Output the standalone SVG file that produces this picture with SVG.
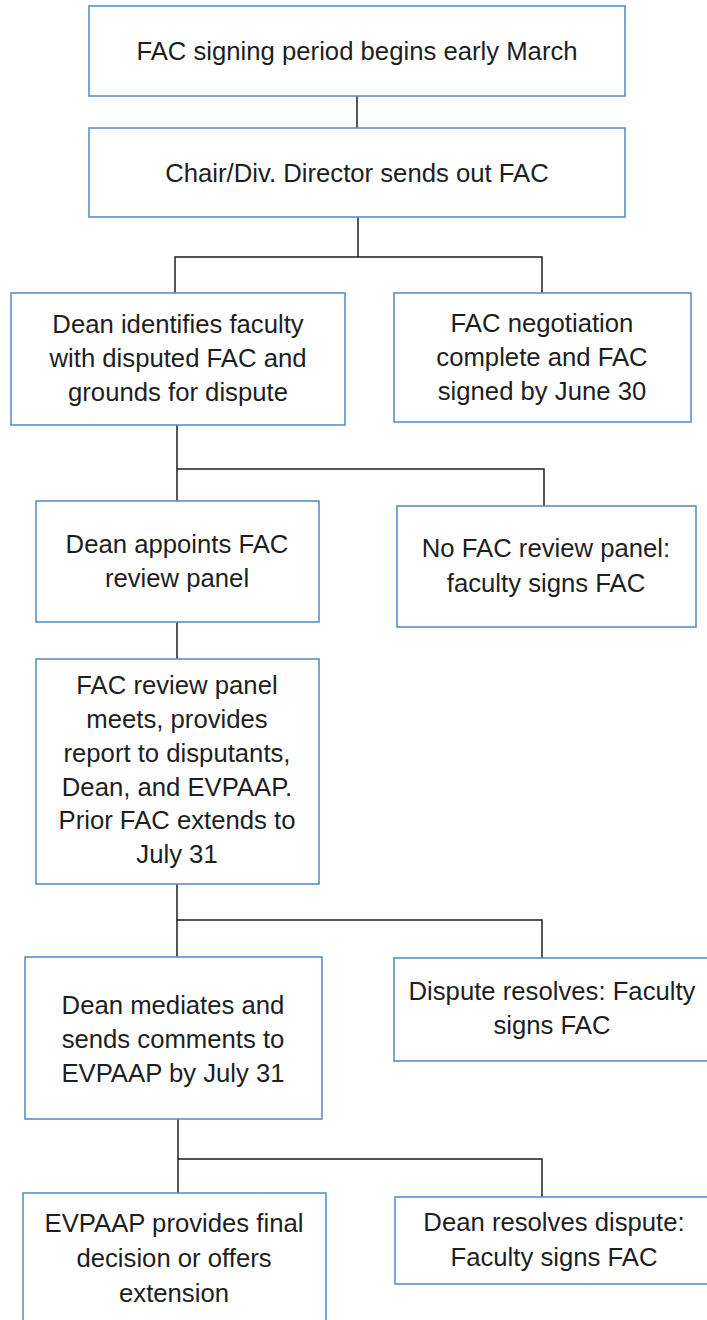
<svg xmlns="http://www.w3.org/2000/svg" width="707" height="1320" viewBox="0 0 707 1320">
<style>
.box{fill:#ffffff;stroke:#5b8fc9;stroke-width:1.6}
.t{font-family:"Liberation Sans",Arial,sans-serif;font-size:25.7px;fill:#1e1e1e;text-anchor:middle}
.c{fill:none;stroke:#1e1e1e;stroke-width:1.5}
</style>
<rect width="707" height="1320" fill="#ffffff"/>
<g id="connectors">
<path class="c" d="M357,96V128"/>
<path class="c" d="M358,217V257M175,293V257H542V293"/>
<path class="c" d="M177,425V469M177,501V469H544V506"/>
<path class="c" d="M177,622V659"/>
<path class="c" d="M177,884V920M177,957V920H542V958"/>
<path class="c" d="M178,1119V1159M178,1193V1159H542V1197"/>
</g>
<g id="n1"><rect class="box" x="89" y="6" width="536" height="90"/><text class="t" x="357" y="60">FAC signing period begins early March</text></g>
<g id="n2"><rect class="box" x="89" y="128" width="536" height="89"/><text class="t" x="357" y="182">Chair/Div. Director sends out FAC</text></g>
<g id="n3"><rect class="box" x="11" y="293" width="334" height="132"/><text class="t" x="178" y="333">Dean identifies faculty</text><text class="t" x="178" y="367">with disputed FAC and</text><text class="t" x="178" y="401">grounds for dispute</text></g>
<g id="n4"><rect class="box" x="394" y="293" width="297" height="129"/><text class="t" x="542" y="332">FAC negotiation</text><text class="t" x="542" y="366">complete and FAC</text><text class="t" x="542" y="400">signed by June 30</text></g>
<g id="n5"><rect class="box" x="36" y="501" width="283" height="121"/><text class="t" x="177" y="553">Dean appoints FAC</text><text class="t" x="177" y="587">review panel</text></g>
<g id="n6"><rect class="box" x="397" y="506" width="299" height="121"/><text class="t" x="546" y="557">No FAC review panel:</text><text class="t" x="546" y="592">faculty signs FAC</text></g>
<g id="n7"><rect class="box" x="36" y="659" width="283" height="225"/><text class="t" x="177" y="694">FAC review panel</text><text class="t" x="177" y="728">meets, provides</text><text class="t" x="177" y="762">report to disputants,</text><text class="t" x="177" y="796">Dean, and EVPAAP.</text><text class="t" x="177" y="829">Prior FAC extends to</text><text class="t" x="177" y="863">July 31</text></g>
<g id="n8"><rect class="box" x="25" y="957" width="297" height="162"/><text class="t" x="173" y="1014">Dean mediates and</text><text class="t" x="173" y="1048">sends comments to</text><text class="t" x="173" y="1082">EVPAAP by July 31</text></g>
<g id="n9"><rect class="box" x="394" y="958" width="318" height="103"/><text class="t" x="552" y="1000">Dispute resolves: Faculty</text><text class="t" x="552" y="1034">signs FAC</text></g>
<g id="n10"><rect class="box" x="23" y="1193" width="303" height="140"/><text class="t" x="174" y="1232">EVPAAP provides final</text><text class="t" x="174" y="1267">decision or offers</text><text class="t" x="174" y="1302">extension</text></g>
<g id="n11"><rect class="box" x="395" y="1197" width="318" height="87"/><text class="t" x="554" y="1231">Dean resolves dispute:</text><text class="t" x="554" y="1266">Faculty signs FAC</text></g>
</svg>
